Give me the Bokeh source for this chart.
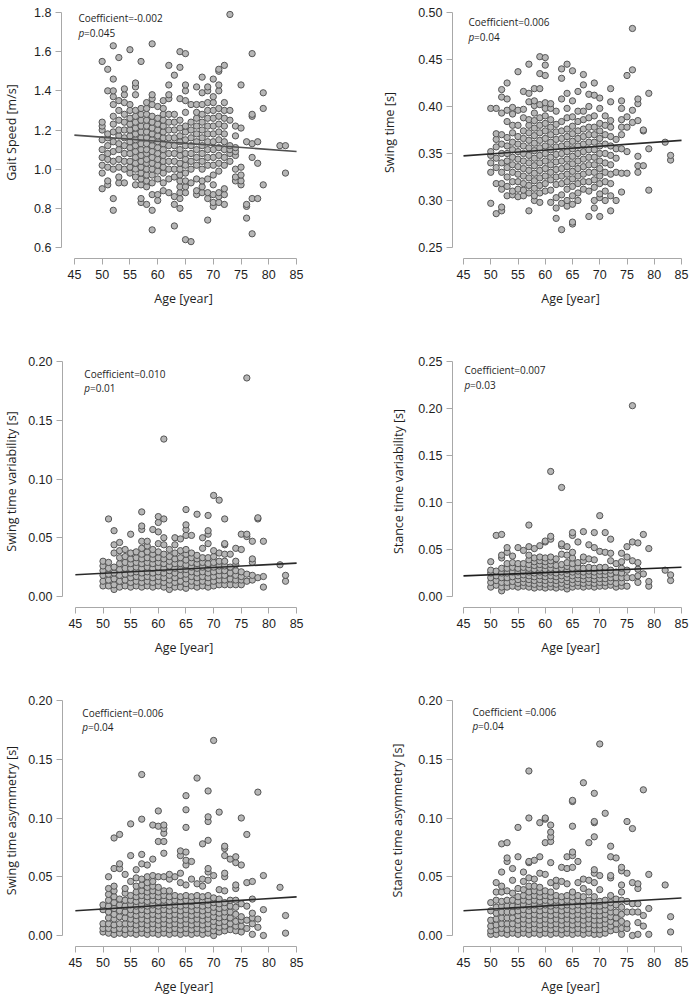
from bokeh.plotting import figure
from bokeh.layouts import column, row
from bokeh.models import FixedTicker, PrintfTickFormatter, Label, ColumnDataSource
from bokeh.embed import file_html
from bokeh.resources import INLINE

# ---------------- data ----------------
AGES = [50, 51, 52, 53, 54, 55, 56, 57, 58, 59, 60, 61, 62, 63, 64, 65, 66, 67,
        68, 69, 70, 71, 72, 73, 74, 75, 76, 77, 78, 79, 82, 83]
X_TICKS = [45, 50, 55, 60, 65, 70, 75, 80, 85]
FIT_AGES = [45, 85]

gait_speed = [
    [0.90, 0.98, 1.02, 1.06, 1.10, 1.15, 1.20, 1.22, 1.24, 1.55],
    [0.92, 0.94, 1.01, 1.05, 1.08, 1.12, 1.16, 1.18, 1.40, 1.51],
    [0.79, 0.85, 1.00, 1.04, 1.09, 1.14, 1.19, 1.23, 1.27, 1.33, 1.37, 1.40, 1.46, 1.63],
    [0.93, 0.96, 1.01, 1.05, 1.10, 1.13, 1.17, 1.20, 1.25, 1.30, 1.35, 1.57],
    [0.93, 1.00, 1.04, 1.08, 1.12, 1.16, 1.20, 1.24, 1.28, 1.34, 1.38, 1.41],
    [0.98, 1.01, 1.04, 1.08, 1.11, 1.14, 1.17, 1.20, 1.23, 1.26, 1.30, 1.33, 1.61],
    [0.92, 0.96, 1.00, 1.03, 1.06, 1.09, 1.12, 1.15, 1.18, 1.21, 1.24, 1.27, 1.30, 1.38, 1.42, 1.44],
    [0.83, 0.85, 0.92, 0.95, 0.98, 1.01, 1.04, 1.07, 1.10, 1.13, 1.16, 1.19, 1.22, 1.25, 1.28, 1.31, 1.55],
    [0.82, 0.91, 0.94, 0.97, 1.00, 1.03, 1.05, 1.08, 1.10, 1.13, 1.16, 1.19, 1.22, 1.25, 1.28, 1.31, 1.34],
    [0.69, 0.79, 0.87, 0.93, 0.97, 1.00, 1.03, 1.06, 1.09, 1.12, 1.15, 1.18, 1.21, 1.24, 1.27, 1.33, 1.36, 1.38, 1.64],
    [0.84, 0.87, 0.95, 0.99, 1.02, 1.05, 1.08, 1.11, 1.14, 1.17, 1.20, 1.23, 1.26, 1.32],
    [0.89, 0.93, 0.98, 1.01, 1.04, 1.07, 1.10, 1.13, 1.16, 1.19, 1.22, 1.25, 1.28, 1.31, 1.35],
    [0.88, 0.95, 1.00, 1.04, 1.08, 1.12, 1.16, 1.20, 1.24, 1.28, 1.36, 1.38, 1.43, 1.53],
    [0.71, 0.82, 0.86, 0.96, 1.00, 1.04, 1.08, 1.12, 1.16, 1.20, 1.24, 1.28, 1.48],
    [0.80, 0.85, 0.88, 0.91, 0.94, 0.97, 1.00, 1.03, 1.07, 1.10, 1.14, 1.17, 1.21, 1.25, 1.36, 1.52, 1.60],
    [0.64, 0.88, 0.91, 0.94, 0.98, 1.02, 1.05, 1.08, 1.12, 1.15, 1.19, 1.22, 1.29, 1.35, 1.40, 1.43, 1.59],
    [0.63, 0.93, 1.00, 1.04, 1.08, 1.12, 1.16, 1.20, 1.24, 1.33],
    [0.87, 0.89, 0.95, 1.02, 1.06, 1.10, 1.14, 1.18, 1.22, 1.26, 1.29, 1.33, 1.42],
    [0.88, 0.91, 0.94, 1.00, 1.04, 1.08, 1.12, 1.16, 1.20, 1.24, 1.28, 1.33, 1.39, 1.47],
    [0.74, 0.85, 0.88, 0.95, 1.02, 1.06, 1.10, 1.14, 1.18, 1.22, 1.26, 1.30, 1.34, 1.40, 1.42],
    [0.81, 0.83, 0.87, 0.92, 0.97, 1.02, 1.06, 1.10, 1.14, 1.18, 1.22, 1.26, 1.30, 1.34, 1.37, 1.46],
    [0.83, 0.86, 0.88, 0.99, 1.03, 1.07, 1.11, 1.15, 1.19, 1.23, 1.27, 1.31, 1.40, 1.43, 1.50, 1.51],
    [0.82, 0.87, 0.90, 1.02, 1.06, 1.10, 1.14, 1.18, 1.22, 1.26, 1.30, 1.34, 1.53],
    [1.04, 1.08, 1.10, 1.12, 1.25, 1.30, 1.79],
    [0.94, 0.96, 1.00, 1.07, 1.09, 1.11, 1.17, 1.22],
    [0.92, 0.94, 0.97, 1.01, 1.21, 1.43],
    [0.75, 0.81, 0.82, 1.14],
    [0.67, 0.85, 1.06, 1.13, 1.27, 1.28, 1.59],
    [0.85, 1.03, 1.14],
    [0.92, 1.31, 1.39],
    [1.12],
    [0.98, 1.12],
]

swing_time = [
    [0.297, 0.330, 0.340, 0.348, 0.352, 0.398],
    [0.286, 0.318, 0.335, 0.345, 0.357, 0.365, 0.371, 0.398],
    [0.289, 0.293, 0.312, 0.318, 0.330, 0.340, 0.350, 0.360, 0.370, 0.393, 0.410, 0.418],
    [0.305, 0.315, 0.325, 0.335, 0.342, 0.350, 0.358, 0.367, 0.384, 0.396, 0.408, 0.425],
    [0.306, 0.310, 0.320, 0.330, 0.338, 0.346, 0.354, 0.362, 0.372, 0.380, 0.392, 0.399],
    [0.304, 0.312, 0.320, 0.328, 0.336, 0.344, 0.352, 0.360, 0.368, 0.380, 0.396, 0.437],
    [0.305, 0.311, 0.318, 0.326, 0.334, 0.342, 0.350, 0.358, 0.366, 0.374, 0.388, 0.397, 0.416],
    [0.289, 0.308, 0.316, 0.324, 0.332, 0.340, 0.348, 0.356, 0.364, 0.372, 0.380, 0.386, 0.405, 0.414, 0.445],
    [0.300, 0.305, 0.313, 0.321, 0.329, 0.337, 0.345, 0.353, 0.361, 0.369, 0.377, 0.385, 0.393, 0.401, 0.406, 0.419],
    [0.298, 0.308, 0.316, 0.324, 0.332, 0.340, 0.348, 0.356, 0.364, 0.372, 0.380, 0.388, 0.402, 0.419, 0.435, 0.453],
    [0.310, 0.318, 0.326, 0.334, 0.342, 0.350, 0.358, 0.366, 0.374, 0.382, 0.390, 0.398, 0.404, 0.433, 0.444, 0.452],
    [0.298, 0.311, 0.322, 0.330, 0.338, 0.346, 0.354, 0.362, 0.370, 0.378, 0.386, 0.398, 0.403],
    [0.281, 0.292, 0.303, 0.317, 0.325, 0.333, 0.341, 0.349, 0.357, 0.365, 0.373, 0.381, 0.395],
    [0.269, 0.297, 0.306, 0.318, 0.326, 0.334, 0.342, 0.350, 0.358, 0.366, 0.374, 0.384, 0.408, 0.430, 0.440],
    [0.294, 0.300, 0.312, 0.320, 0.328, 0.336, 0.344, 0.352, 0.360, 0.368, 0.376, 0.388, 0.398, 0.414, 0.445],
    [0.275, 0.277, 0.296, 0.305, 0.315, 0.323, 0.331, 0.339, 0.347, 0.355, 0.363, 0.371, 0.379, 0.389, 0.406, 0.438],
    [0.300, 0.308, 0.318, 0.326, 0.334, 0.342, 0.350, 0.358, 0.366, 0.374, 0.384, 0.395, 0.416],
    [0.312, 0.320, 0.328, 0.336, 0.344, 0.352, 0.360, 0.368, 0.376, 0.386, 0.395, 0.423, 0.434],
    [0.283, 0.310, 0.320, 0.330, 0.338, 0.346, 0.354, 0.362, 0.370, 0.378, 0.388, 0.400, 0.413],
    [0.292, 0.300, 0.314, 0.322, 0.330, 0.338, 0.346, 0.354, 0.362, 0.370, 0.378, 0.390, 0.412, 0.425],
    [0.283, 0.303, 0.307, 0.318, 0.326, 0.334, 0.342, 0.350, 0.358, 0.366, 0.374, 0.382, 0.398, 0.409],
    [0.300, 0.310, 0.320, 0.330, 0.340, 0.350, 0.360, 0.370, 0.380, 0.390],
    [0.289, 0.305, 0.318, 0.328, 0.338, 0.348, 0.358, 0.368, 0.378, 0.385, 0.405, 0.419],
    [0.300, 0.330, 0.345, 0.355, 0.365],
    [0.309, 0.329, 0.355, 0.370, 0.378, 0.386, 0.398, 0.406],
    [0.329, 0.352, 0.378, 0.389, 0.433],
    [0.383, 0.396, 0.439, 0.483],
    [0.330, 0.337, 0.347, 0.385, 0.403, 0.408],
    [0.337, 0.374, 0.375],
    [0.311, 0.355, 0.414],
    [0.362],
    [0.343, 0.348],
]

swing_variability = [
    [0.009, 0.013, 0.018, 0.022, 0.026, 0.030],
    [0.009, 0.014, 0.019, 0.024, 0.029, 0.066],
    [0.006, 0.010, 0.015, 0.020, 0.025, 0.037, 0.044, 0.056],
    [0.008, 0.013, 0.018, 0.023, 0.028, 0.033, 0.039, 0.046],
    [0.009, 0.014, 0.019, 0.024, 0.029, 0.034, 0.040],
    [0.008, 0.012, 0.016, 0.020, 0.024, 0.028, 0.032, 0.037, 0.053],
    [0.009, 0.013, 0.017, 0.021, 0.025, 0.029, 0.033, 0.038],
    [0.008, 0.012, 0.016, 0.020, 0.024, 0.028, 0.032, 0.036, 0.041, 0.047, 0.057, 0.060, 0.072],
    [0.009, 0.013, 0.017, 0.021, 0.025, 0.029, 0.033, 0.038, 0.043, 0.047],
    [0.008, 0.012, 0.016, 0.020, 0.024, 0.028, 0.032, 0.036, 0.040, 0.057],
    [0.009, 0.013, 0.017, 0.021, 0.025, 0.029, 0.033, 0.038, 0.045, 0.055, 0.063, 0.068],
    [0.008, 0.012, 0.016, 0.020, 0.024, 0.028, 0.032, 0.036, 0.044, 0.050, 0.066, 0.134],
    [0.006, 0.010, 0.014, 0.018, 0.022, 0.026, 0.030, 0.034, 0.040],
    [0.008, 0.012, 0.016, 0.020, 0.024, 0.028, 0.032, 0.037, 0.044, 0.050],
    [0.008, 0.013, 0.018, 0.023, 0.028, 0.033, 0.039, 0.049],
    [0.007, 0.011, 0.015, 0.019, 0.023, 0.027, 0.031, 0.036, 0.040, 0.052, 0.057, 0.061, 0.074],
    [0.009, 0.013, 0.017, 0.021, 0.025, 0.029, 0.033, 0.037, 0.052],
    [0.008, 0.012, 0.016, 0.020, 0.024, 0.028, 0.032, 0.035, 0.070],
    [0.009, 0.013, 0.017, 0.021, 0.025, 0.029, 0.033, 0.041, 0.050],
    [0.008, 0.012, 0.016, 0.020, 0.024, 0.028, 0.033, 0.045, 0.053, 0.056, 0.069],
    [0.009, 0.013, 0.017, 0.021, 0.025, 0.029, 0.034, 0.039, 0.086],
    [0.010, 0.014, 0.018, 0.022, 0.026, 0.030, 0.037, 0.082],
    [0.010, 0.014, 0.018, 0.022, 0.026, 0.030, 0.036, 0.044, 0.045, 0.066],
    [0.010, 0.015, 0.020, 0.025, 0.036],
    [0.010, 0.014, 0.018, 0.022, 0.027, 0.030, 0.041],
    [0.010, 0.014, 0.017, 0.021, 0.040, 0.053],
    [0.013, 0.019, 0.051, 0.053, 0.186],
    [0.014, 0.018, 0.029, 0.032, 0.047],
    [0.016, 0.066, 0.067],
    [0.008, 0.017, 0.047],
    [0.027],
    [0.013, 0.018],
]

stance_variability = [
    [0.010, 0.015, 0.020, 0.025, 0.028, 0.037],
    [0.012, 0.017, 0.022, 0.027, 0.065],
    [0.006, 0.010, 0.015, 0.020, 0.025, 0.030, 0.041, 0.044, 0.066],
    [0.010, 0.015, 0.020, 0.025, 0.030, 0.035, 0.047, 0.052],
    [0.011, 0.016, 0.021, 0.026, 0.031, 0.036, 0.043],
    [0.010, 0.014, 0.018, 0.022, 0.026, 0.030, 0.035, 0.052],
    [0.011, 0.015, 0.019, 0.023, 0.027, 0.031, 0.035, 0.049],
    [0.010, 0.014, 0.018, 0.022, 0.026, 0.030, 0.034, 0.039, 0.044, 0.053, 0.076],
    [0.009, 0.013, 0.017, 0.021, 0.025, 0.029, 0.033, 0.037, 0.041, 0.051],
    [0.010, 0.014, 0.018, 0.022, 0.026, 0.030, 0.034, 0.038, 0.042, 0.054],
    [0.009, 0.013, 0.017, 0.021, 0.025, 0.029, 0.033, 0.037, 0.041, 0.058, 0.059],
    [0.010, 0.014, 0.018, 0.022, 0.026, 0.030, 0.034, 0.038, 0.042, 0.061, 0.064, 0.133],
    [0.009, 0.013, 0.017, 0.021, 0.025, 0.029, 0.033, 0.040],
    [0.010, 0.014, 0.018, 0.022, 0.026, 0.030, 0.034, 0.045, 0.054, 0.056, 0.116],
    [0.008, 0.012, 0.016, 0.020, 0.024, 0.028, 0.032, 0.036, 0.044, 0.053],
    [0.010, 0.014, 0.018, 0.022, 0.026, 0.030, 0.035, 0.041, 0.047, 0.065, 0.068],
    [0.011, 0.015, 0.019, 0.023, 0.027, 0.031, 0.036, 0.058],
    [0.010, 0.014, 0.018, 0.022, 0.026, 0.030, 0.038, 0.042, 0.069],
    [0.011, 0.015, 0.019, 0.023, 0.027, 0.031, 0.040, 0.055],
    [0.010, 0.014, 0.018, 0.022, 0.026, 0.030, 0.039, 0.052, 0.068],
    [0.011, 0.015, 0.019, 0.023, 0.027, 0.031, 0.048, 0.086],
    [0.011, 0.015, 0.019, 0.023, 0.027, 0.031, 0.047, 0.068],
    [0.012, 0.016, 0.020, 0.024, 0.028, 0.038, 0.046, 0.061],
    [0.010, 0.014, 0.020, 0.026, 0.035],
    [0.011, 0.015, 0.020, 0.025, 0.030, 0.037, 0.046],
    [0.011, 0.020, 0.028, 0.042, 0.053],
    [0.020, 0.038, 0.058, 0.203],
    [0.015, 0.022, 0.029, 0.036, 0.057],
    [0.024, 0.066],
    [0.011, 0.016, 0.051],
    [0.028],
    [0.017, 0.023],
]

swing_asymmetry = [
    [0.003, 0.006, 0.010, 0.022, 0.026],
    [0.002, 0.006, 0.010, 0.015, 0.020, 0.025, 0.030, 0.035, 0.040, 0.050],
    [0.001, 0.005, 0.009, 0.014, 0.018, 0.023, 0.028, 0.033, 0.038, 0.042, 0.057, 0.083],
    [0.002, 0.006, 0.010, 0.016, 0.021, 0.026, 0.031, 0.057, 0.061, 0.086],
    [0.001, 0.005, 0.010, 0.015, 0.020, 0.025, 0.030, 0.036, 0.040, 0.052],
    [0.002, 0.006, 0.010, 0.014, 0.018, 0.022, 0.026, 0.030, 0.034, 0.046, 0.068, 0.095],
    [0.001, 0.005, 0.009, 0.013, 0.017, 0.021, 0.025, 0.029, 0.033, 0.037, 0.042, 0.049, 0.056],
    [0.002, 0.006, 0.010, 0.014, 0.018, 0.022, 0.026, 0.030, 0.034, 0.038, 0.043, 0.048, 0.061, 0.069, 0.099, 0.137],
    [0.001, 0.005, 0.009, 0.013, 0.017, 0.021, 0.025, 0.029, 0.033, 0.037, 0.041, 0.045, 0.050, 0.060],
    [0.002, 0.006, 0.010, 0.014, 0.018, 0.022, 0.026, 0.030, 0.034, 0.038, 0.042, 0.046, 0.051, 0.065, 0.094],
    [0.001, 0.005, 0.009, 0.013, 0.017, 0.021, 0.025, 0.029, 0.033, 0.037, 0.041, 0.050, 0.080, 0.093, 0.106],
    [0.002, 0.006, 0.010, 0.014, 0.018, 0.022, 0.026, 0.030, 0.034, 0.038, 0.050, 0.070, 0.080, 0.087, 0.091, 0.094],
    [0.001, 0.005, 0.009, 0.013, 0.017, 0.021, 0.025, 0.029, 0.033, 0.038, 0.048, 0.052],
    [0.002, 0.006, 0.010, 0.014, 0.018, 0.022, 0.026, 0.030, 0.034, 0.050],
    [0.001, 0.005, 0.009, 0.013, 0.017, 0.021, 0.025, 0.029, 0.033, 0.045, 0.053, 0.068, 0.072],
    [0.002, 0.006, 0.010, 0.014, 0.018, 0.022, 0.026, 0.030, 0.034, 0.043, 0.060, 0.064, 0.071, 0.092, 0.107, 0.119],
    [0.001, 0.005, 0.009, 0.013, 0.017, 0.021, 0.025, 0.029, 0.033, 0.048, 0.063],
    [0.002, 0.006, 0.010, 0.014, 0.018, 0.022, 0.026, 0.030, 0.034, 0.044, 0.134],
    [0.001, 0.005, 0.009, 0.013, 0.017, 0.021, 0.025, 0.029, 0.033, 0.042, 0.048, 0.078],
    [0.002, 0.006, 0.010, 0.014, 0.018, 0.022, 0.026, 0.030, 0.034, 0.047, 0.054, 0.057, 0.081, 0.097, 0.101, 0.123],
    [0.000, 0.004, 0.008, 0.012, 0.016, 0.020, 0.024, 0.028, 0.032, 0.051, 0.166],
    [0.003, 0.007, 0.011, 0.015, 0.019, 0.023, 0.027, 0.031, 0.039, 0.105],
    [0.004, 0.008, 0.012, 0.016, 0.020, 0.024, 0.028, 0.038, 0.050, 0.053, 0.068, 0.074, 0.076],
    [0.005, 0.010, 0.015, 0.020, 0.025, 0.030, 0.065],
    [0.004, 0.008, 0.012, 0.018, 0.024, 0.030, 0.040, 0.043, 0.062, 0.067],
    [0.003, 0.008, 0.013, 0.016, 0.027, 0.060, 0.100],
    [0.006, 0.013, 0.025, 0.045, 0.086],
    [0.001, 0.010, 0.015, 0.019, 0.031, 0.046],
    [0.007, 0.014, 0.122],
    [0.000, 0.022, 0.051],
    [0.041],
    [0.002, 0.017],
]

stance_asymmetry = [
    [0.001, 0.004, 0.008, 0.013, 0.021, 0.028],
    [0.001, 0.005, 0.009, 0.014, 0.019, 0.024, 0.030, 0.037, 0.045],
    [0.002, 0.006, 0.010, 0.015, 0.020, 0.025, 0.029, 0.037, 0.042, 0.054, 0.078],
    [0.001, 0.005, 0.010, 0.015, 0.020, 0.025, 0.030, 0.038, 0.063, 0.066, 0.079],
    [0.002, 0.006, 0.010, 0.015, 0.020, 0.025, 0.030, 0.036, 0.047, 0.057],
    [0.001, 0.005, 0.009, 0.013, 0.017, 0.021, 0.025, 0.029, 0.033, 0.040, 0.067, 0.092],
    [0.002, 0.006, 0.010, 0.014, 0.018, 0.022, 0.026, 0.030, 0.034, 0.039, 0.046, 0.054],
    [0.001, 0.005, 0.009, 0.013, 0.017, 0.021, 0.025, 0.029, 0.033, 0.037, 0.042, 0.049, 0.062, 0.063, 0.100, 0.140],
    [0.002, 0.006, 0.010, 0.014, 0.018, 0.022, 0.026, 0.030, 0.034, 0.038, 0.042, 0.048, 0.064],
    [0.001, 0.005, 0.009, 0.013, 0.017, 0.021, 0.025, 0.029, 0.033, 0.037, 0.041, 0.053, 0.067, 0.096],
    [0.002, 0.006, 0.010, 0.014, 0.018, 0.022, 0.026, 0.030, 0.034, 0.038, 0.052, 0.079, 0.099, 0.100],
    [0.001, 0.005, 0.009, 0.013, 0.017, 0.021, 0.025, 0.029, 0.033, 0.037, 0.045, 0.062, 0.080, 0.084, 0.088, 0.094],
    [0.002, 0.006, 0.010, 0.014, 0.018, 0.022, 0.026, 0.030, 0.034, 0.042, 0.047],
    [0.001, 0.005, 0.009, 0.013, 0.017, 0.021, 0.025, 0.029, 0.033, 0.046, 0.058],
    [0.002, 0.006, 0.010, 0.014, 0.018, 0.022, 0.026, 0.030, 0.034, 0.044, 0.057, 0.067],
    [0.001, 0.005, 0.009, 0.013, 0.017, 0.021, 0.025, 0.029, 0.033, 0.037, 0.058, 0.068, 0.071, 0.093, 0.114, 0.115],
    [0.002, 0.006, 0.010, 0.014, 0.018, 0.022, 0.026, 0.030, 0.034, 0.045, 0.063],
    [0.001, 0.005, 0.009, 0.013, 0.017, 0.021, 0.025, 0.029, 0.033, 0.040, 0.048, 0.130],
    [0.002, 0.006, 0.010, 0.014, 0.018, 0.022, 0.026, 0.030, 0.037, 0.047, 0.079],
    [0.001, 0.005, 0.009, 0.013, 0.017, 0.021, 0.025, 0.029, 0.033, 0.045, 0.053, 0.056, 0.084, 0.096, 0.097, 0.121],
    [0.001, 0.005, 0.009, 0.013, 0.017, 0.021, 0.025, 0.029, 0.039, 0.051, 0.163],
    [0.002, 0.006, 0.010, 0.014, 0.018, 0.022, 0.026, 0.030, 0.104],
    [0.004, 0.008, 0.012, 0.016, 0.020, 0.024, 0.028, 0.034, 0.049, 0.051, 0.067, 0.076],
    [0.005, 0.010, 0.015, 0.020, 0.026, 0.031, 0.066],
    [0.001, 0.006, 0.012, 0.018, 0.024, 0.030, 0.037, 0.043, 0.055, 0.058],
    [0.006, 0.010, 0.020, 0.029, 0.053, 0.097],
    [0.000, 0.020, 0.027, 0.045, 0.091],
    [0.001, 0.011, 0.020, 0.027, 0.040, 0.044],
    [0.008, 0.017, 0.124],
    [0.001, 0.023, 0.052],
    [0.043],
    [0.003, 0.016],
]

# regression line values at age 45 and age 85
fit_at_45 = [1.174, 0.3475, 0.0185, 0.0219, 0.0210, 0.0211]
fit_at_85 = [1.090, 0.3640, 0.0284, 0.0311, 0.0329, 0.0319]

y_labels = ["Gait Speed [m/s]", "Swing time [s]",
            "Swing time variability [s]", "Stance time variability [s]",
            "Swing time asymmetry [s]", "Stance time asymmetry [s]"]
coef_texts = ["Coefficient=-0.002", "Coefficient=0.006",
              "Coefficient=0.010", "Coefficient=0.007",
              "Coefficient=0.006", "Coefficient =0.006"]
p_texts = ["=0.045", "=0.04", "=0.01", "=0.03", "=0.04", "=0.04"]

gait_ticks = [0.6, 0.8, 1.0, 1.2, 1.4, 1.6, 1.8]
swing_ticks = [0.25, 0.30, 0.35, 0.40, 0.45, 0.50]
var_ticks = [0.00, 0.05, 0.10, 0.15, 0.20]
stance_var_ticks = [0.00, 0.05, 0.10, 0.15, 0.20, 0.25]
asym_ticks = [0.00, 0.05, 0.10, 0.15, 0.20]

series = [gait_speed, swing_time, swing_variability, stance_variability,
          swing_asymmetry, stance_asymmetry]
y_ticks = [gait_ticks, swing_ticks, var_ticks, stance_var_ticks, asym_ticks, asym_ticks]
tick_fmt = ["%.1f", "%.2f", "%.2f", "%.2f", "%.2f", "%.2f"]

# ---------------- layout / style ----------------
FRAME_H = 252
TOP_PAD, BOT_PAD, TICK_SPAN = 6, 11, 235
COL_PX_PER_YR = [5.6, 5.45]
COL_LEFT_PAD = [13, 11]
COL_RIGHT_PAD = [9, 7]
COL_BORDERS = [(59, 44), (103, 8)]
ROW_BORDERS = [(6, 55), (42, 55), (32, 52)]
ANNOT = [(4, 5, 20), (5, 9, 24), (9, 12, 26), (1, 8, 23), (7, 12, 26), (9, 11, 25)]
YLABEL_STANDOFF = [11, 17, 5, 8, 5, 9]

AXIS_COLOR = "#a8a8a8"
TEXT_COLOR = "#1e1e1e"
LINE_COLORS = ["#505050", "#2a2a2a", "#2a2a2a", "#1e1e1e", "#2a2a2a", "#2a2a2a"]


def flatten(groups):
    xs, ys = [], []
    for a, vals in zip(AGES, groups):
        for v in vals:
            xs.append(a)
            ys.append(v)
    return xs, ys


figs = []
for i in range(6):
    r, c = divmod(i, 2)
    ppy = COL_PX_PER_YR[c]
    fw = int(round(40 * ppy + COL_LEFT_PAD[c] + COL_RIGHT_PAD[c]))
    x0 = X_TICKS[0] - COL_LEFT_PAD[c] / ppy
    x1 = X_TICKS[-1] + COL_RIGHT_PAD[c] / ppy
    lo, hi = y_ticks[i][0], y_ticks[i][-1]
    upp = (hi - lo) / TICK_SPAN
    y0 = lo - BOT_PAD * upp
    y1 = hi + TOP_PAD * upp
    bl, br = COL_BORDERS[c]
    bt, bb = ROW_BORDERS[r]
    p = figure(width=bl + fw + br, height=bt + FRAME_H + bb,
               x_range=(x0, x1), y_range=(y0, y1),
               min_border_left=bl, min_border_right=br,
               min_border_top=bt, min_border_bottom=bb,
               output_backend="svg", toolbar_location=None)
    p.outline_line_color = None
    p.grid.visible = False
    p.background_fill_color = "white"
    p.border_fill_color = "white"

    p.xaxis.ticker = FixedTicker(ticks=X_TICKS)
    p.xaxis.bounds = (X_TICKS[0], X_TICKS[-1])
    p.yaxis.ticker = FixedTicker(ticks=y_ticks[i])
    p.yaxis.bounds = (lo, hi)
    p.yaxis.formatter = PrintfTickFormatter(format=tick_fmt[i])
    p.axis.axis_line_color = AXIS_COLOR
    p.axis.major_tick_line_color = AXIS_COLOR
    p.axis.minor_tick_line_color = None
    p.axis.major_tick_in = 0
    p.axis.major_tick_out = 6
    p.axis.major_label_text_font = "Liberation Sans"
    p.axis.major_label_text_font_size = "12.5px"
    p.axis.major_label_text_color = TEXT_COLOR
    p.xaxis.major_label_standoff = 5
    p.yaxis.major_label_standoff = 4
    p.axis.axis_label_text_font = "Open Sans"
    p.axis.axis_label_text_font_size = "12.5px"
    p.axis.axis_label_text_font_style = "normal"
    p.axis.axis_label_text_color = TEXT_COLOR
    p.xaxis.axis_label = "Age [year]"
    p.xaxis.axis_label_standoff = 8
    p.yaxis.axis_label = y_labels[i]
    p.yaxis.axis_label_standoff = YLABEL_STANDOFF[i]

    xs, ys = flatten(series[i])
    src = ColumnDataSource(dict(age=xs, val=ys))
    p.scatter(x="age", y="val", source=src, marker="circle", size=6.3,
              fill_color="#b6b6b6", line_color="#555555", line_width=1)
    p.line(x=FIT_AGES, y=[fit_at_45[i], fit_at_85[i]],
           line_color=LINE_COLORS[i], line_width=1.6)

    dx, dy1, dy2 = ANNOT[i]
    p.add_layout(Label(x=X_TICKS[0], y=hi, x_offset=dx, y_offset=-dy1,
                       text=coef_texts[i], text_font="Open Sans",
                       text_font_size="10px", text_color=TEXT_COLOR,
                       text_baseline="middle"))
    p.add_layout(Label(x=X_TICKS[0], y=hi, x_offset=dx, y_offset=-dy2,
                       text="p", text_font="Open Sans", text_font_style="italic",
                       text_font_size="10px", text_color=TEXT_COLOR,
                       text_baseline="middle"))
    p.add_layout(Label(x=X_TICKS[0], y=hi, x_offset=dx + 5.6, y_offset=-dy2,
                       text=p_texts[i], text_font="Open Sans",
                       text_font_size="10px", text_color=TEXT_COLOR,
                       text_baseline="middle"))
    figs.append(p)

layout = column(row(figs[0], figs[1]), row(figs[2], figs[3]), row(figs[4], figs[5]))
open("out.html", "w").write(file_html(layout, INLINE))
